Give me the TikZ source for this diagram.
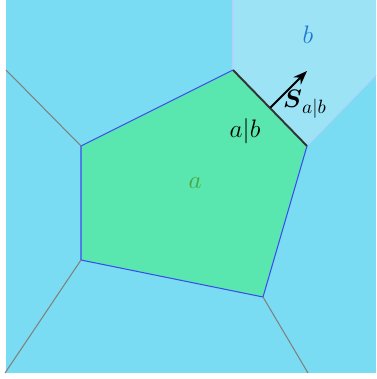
\documentclass[tikz,border=0pt]{standalone}
\usepackage{amsmath, amssymb}
\usepackage{xcolor}
\usepackage{tikz}
\usetikzlibrary{arrows.meta, positioning, calc}

\definecolor{cellblue}{HTML}{7ADCF2}
\definecolor{cellb}{HTML}{9CE3F5}
\definecolor{cella}{HTML}{5AE6AF}
\definecolor{edgeblue}{HTML}{3A4CF0}
\definecolor{labelb}{HTML}{1E78D2}
\definecolor{labela}{HTML}{4CA63A}

\tikzset{
  bigtext/.style={font=\fontsize{15}{18}\selectfont},
  voronoi/.style={draw=gray, line width=0.6pt},
}

\begin{document}
\begin{tikzpicture}[x=0.02cm, y=-0.02cm, >=Stealth]
\useasboundingbox (0,0) rectangle (376,379);

% Vertices of cell a
\coordinate (A) at (233,70);
\coordinate (B) at (307,146);
\coordinate (C) at (263,297);
\coordinate (D) at (81,260);
\coordinate (E) at (81,146);

% Background cells
\fill[cellblue] (6,0) rectangle (376,373);

% Cell b
\fill[cellb] (233,0) -- (376,0) -- (376,75) -- (B) -- (A) -- cycle;
\draw[cellb!80!blue!60, line width=0.6pt] (233,0) -- (A);
\draw[cellb!80!blue!60, line width=0.6pt] (376,75) -- (B);

% Cell a
\fill[cella] (A) -- (B) -- (C) -- (D) -- (E) -- cycle;
\draw[edgeblue, line width=0.6pt] (B) -- (C) -- (D) -- (E) -- (A);

% Other Voronoi edges
\draw[voronoi] (E) -- (6,70);
\draw[voronoi] (D) -- (5,373);
\draw[voronoi] (C) -- (308,373);

% Shared face a|b
\draw[black!80, line width=1.1pt] (A) -- (B);

% Face normal
\coordinate (M) at (270.5,107.5);
\coordinate (N) at (307,71);
\draw[->, line width=1.1pt] (M) -- (N);

% Labels
\node[bigtext, text=labelb] (lb) at (308,35) {$b$};
\node[bigtext, text=labela] (la) at (195,183) {$a$};
\node[bigtext] (lab) at (245,131) {$a|b$};
\node[bigtext] (ls) at (305,104) {$\boldsymbol{S}_{a|b}$};

\end{tikzpicture}
\end{document}
